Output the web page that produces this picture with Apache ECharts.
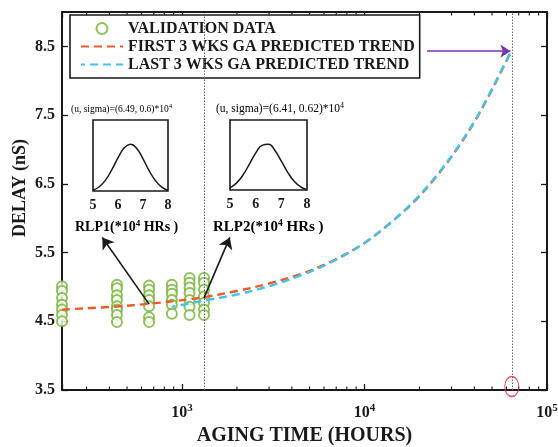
<!DOCTYPE html>
<html><head><meta charset="utf-8">
<script src="https://cdn.jsdelivr.net/npm/echarts@6/dist/echarts.min.js"></script>
<style>html,body{margin:0;padding:0;background:#fff}#c{width:558px;height:447px}</style>
</head><body><div id="c"></div>
<script>
// ---------- data ----------
const validationHours = [220, 440, 660, 880, 1100, 1320];
const delayAt220  = [5.01, 4.94, 4.84, 4.74, 4.67, 4.59, 4.50];
const delayAt440  = [5.03, 4.98, 4.88, 4.81, 4.72, 4.67, 4.59, 4.49];
const delayAt660  = [5.02, 4.96, 4.88, 4.81, 4.72, 4.56, 4.49];
const delayAt880  = [5.03, 4.96, 4.90, 4.81, 4.74, 4.61];
const delayAt1100 = [5.13, 5.06, 4.99, 4.91, 4.81, 4.71, 4.59];
const delayAt1320 = [5.13, 5.06, 4.96, 4.86, 4.77, 4.67, 4.59];

const firstTrendHours = [220, 440, 660, 880, 1100, 1320, 2000, 3000, 4500, 6700, 10000, 14000, 19000, 25000, 32000, 40000, 48000, 56000, 64100];
const firstTrendDelay = [4.67, 4.715, 4.755, 4.79, 4.82, 4.85, 4.94, 5.05, 5.19, 5.38, 5.64, 5.94, 6.26, 6.62, 7.00, 7.40, 7.78, 8.13, 8.44];
const lastTrendHours  = [880, 1100, 1320, 2000, 3000, 4500, 6700, 10000, 14000, 19000, 25000, 32000, 40000, 48000, 56000, 64100];
const lastTrendDelay  = [4.71, 4.76, 4.80, 4.89, 5.01, 5.17, 5.37, 5.64, 5.94, 6.27, 6.63, 7.01, 7.41, 7.79, 8.14, 8.45];

const rlpDividerHours = [1320, 64100];
const rlpMarkHours = 64100;

const insetX = [5, 5.25, 5.5, 5.75, 6, 6.25, 6.5, 6.75, 7, 7.25, 7.5, 7.75, 8];
const rlp1Density = [0.046, 0.118, 0.256, 0.469, 0.715, 0.923, 1.0, 0.911, 0.697, 0.446, 0.243, 0.110, 0.042];
const rlp2Density = [0.076, 0.174, 0.339, 0.569, 0.804, 0.967, 0.990, 0.860, 0.636, 0.402, 0.212, 0.097, 0.038];
const insetTicks = [5, 6, 7, 8];

const yTickValues = [3.5, 4.5, 5.5, 6.5, 7.5, 8.5];
const xMinorTicks = [300, 400, 500, 600, 700, 800, 900, 2000, 3000, 4000, 5000, 6000, 7000, 8000, 9000,
                     20000, 30000, 40000, 50000, 60000, 70000, 80000, 90000];

const legendNames = ['VALIDATION DATA', 'FIRST 3 WKS GA PREDICTED TREND', 'LAST 3 WKS GA PREDICTED TREND'];
const title1 = '(u, sigma)=(6.49, 0.6)*10';
const title2 = '(u, sigma)=(6.41, 0.62)*10';

// ---------- build ----------
const delayCols = [delayAt220, delayAt440, delayAt660, delayAt880, delayAt1100, delayAt1320];
const scatterData = [];
validationHours.forEach((h, i) => delayCols[i].forEach(v => scatterData.push([h, v])));
const firstData = firstTrendHours.map((h, i) => [h, firstTrendDelay[i]]);
const lastData = lastTrendHours.map((h, i) => [h, lastTrendDelay[i]]);

const SERIF = '"Liberation Serif", "DejaVu Serif", serif';
const GREEN = '#74b235', ORANGE = '#f05a28', BLUE = '#3fc3ef', INK = '#1a1a1a';

function expLabel(v) {
  const e = Math.log10(v);
  if (Math.abs(e - Math.round(e)) > 1e-6) return '';
  return '{b|10}{s|' + Math.round(e) + '}';
}

const chart = echarts.init(document.getElementById('c'), null, {renderer: 'canvas'});
const baseX = {gridIndex: 0, type: 'log', logBase: 10, min: 220, max: 100000, splitLine: {show: false}};

chart.setOption({
  animation: false,
  backgroundColor: '#fff',
  grid: [
    {left: 62, top: 12, right: 11, bottom: 57, show: false, containLabel: false, outerBoundsMode: 'none'},
    {left: 93, top: 120, width: 75, height: 71, show: true, borderColor: INK, borderWidth: 1.6, backgroundColor: 'transparent', outerBoundsMode: 'none'},
    {left: 230, top: 120, width: 77, height: 70, show: true, borderColor: INK, borderWidth: 1.6, backgroundColor: 'transparent', outerBoundsMode: 'none'}
  ],
  legend: {
    data: [
      {name: legendNames[0]},
      {name: legendNames[1], itemStyle: {opacity: 0}},
      {name: legendNames[2], itemStyle: {opacity: 0}}
    ],
    orient: 'vertical', left: 70, top: 15,
    itemWidth: 42, itemHeight: 11, itemGap: 1,
    padding: [5, 5, 5, 10],
    borderColor: INK, borderWidth: 1.6, backgroundColor: '#fff',
    selectedMode: false,
    textStyle: {fontFamily: SERIF, fontWeight: 'bold', fontSize: 16, color: INK, lineHeight: 17}
  },
  xAxis: [
    Object.assign({}, baseX, {
      position: 'bottom',
      axisLine: {show: true, onZero: false, lineStyle: {color: INK, width: 2}},
      axisTick: {show: true, inside: true, length: 6, lineStyle: {color: INK, width: 1.3}},
      axisLabel: {formatter: expLabel, margin: 13, color: INK,
        rich: {b: {fontFamily: SERIF, fontWeight: 'bold', fontSize: 16, lineHeight: 20, color: INK},
               s: {fontFamily: SERIF, fontWeight: 'bold', fontSize: 11, lineHeight: 10, verticalAlign: 'top', color: INK}}},
      name: 'AGING TIME (HOURS)', nameLocation: 'middle', nameGap: 36,
      nameTextStyle: {fontFamily: SERIF, fontWeight: 'bold', fontSize: 20, color: INK}
    }),
    Object.assign({}, baseX, {
      position: 'top',
      axisLine: {show: true, onZero: false, lineStyle: {color: INK, width: 2}},
      axisTick: {show: true, inside: true, length: 6, lineStyle: {color: INK, width: 1.3}},
      axisLabel: {show: false}
    }),
    {gridIndex: 1, type: 'value', min: 5, max: 8, interval: 1,
      axisLine: {show: false}, axisTick: {show: false}, splitLine: {show: false},
      axisLabel: {margin: 7, color: INK, fontFamily: SERIF, fontWeight: 'bold', fontSize: 14, customValues: insetTicks}},
    {gridIndex: 2, type: 'value', min: 5, max: 8, interval: 1,
      axisLine: {show: false}, axisTick: {show: false}, splitLine: {show: false},
      axisLabel: {margin: 7, color: INK, fontFamily: SERIF, fontWeight: 'bold', fontSize: 14, customValues: insetTicks}}
  ],
  yAxis: [
    {gridIndex: 0, type: 'value', min: 3.5, max: 9, position: 'left',
      axisLine: {show: true, onZero: false, lineStyle: {color: INK, width: 2}},
      axisTick: {show: true, inside: true, length: 6, customValues: yTickValues, lineStyle: {color: INK, width: 1.3}},
      axisLabel: {customValues: yTickValues, margin: 7, color: INK, fontFamily: SERIF, fontWeight: 'bold', fontSize: 16,
        formatter: v => v.toFixed(1)},
      splitLine: {show: false}},
    {gridIndex: 0, type: 'value', min: 3.5, max: 9, position: 'right',
      axisLine: {show: true, onZero: false, lineStyle: {color: INK, width: 2}},
      axisTick: {show: true, inside: true, length: 6, customValues: yTickValues, lineStyle: {color: INK, width: 1.3}},
      axisLabel: {show: false}, splitLine: {show: false}},
    {gridIndex: 1, type: 'value', min: 0.03, max: 1.5, show: false},
    {gridIndex: 2, type: 'value', min: 0.03, max: 1.5, show: false}
  ],
  series: [
    {
      name: 'minor ticks', type: 'custom', xAxisIndex: 0, yAxisIndex: 0, silent: true, clip: false,
      data: xMinorTicks.map(h => [h]),
      renderItem: function (params, api) {
        const b = api.coord([api.value(0), 3.5]);
        const t = api.coord([api.value(0), 9]);
        const st = {stroke: INK, lineWidth: 1.1};
        return {type: 'group', children: [
          {type: 'line', shape: {x1: b[0], y1: b[1], x2: b[0], y2: b[1] - 3.5}, style: st},
          {type: 'line', shape: {x1: t[0], y1: t[1], x2: t[0], y2: t[1] + 3.5}, style: st}
        ]};
      }
    },
    {
      name: legendNames[0], type: 'scatter', xAxisIndex: 0, yAxisIndex: 0, clip: false,
      symbol: 'emptyCircle', symbolSize: 10,
      itemStyle: {color: GREEN, borderColor: GREEN, borderWidth: 1.8},
      data: scatterData, z: 3
    },
    {
      name: legendNames[1], type: 'line', xAxisIndex: 0, yAxisIndex: 0, smooth: 0.35,
      symbol: 'none', data: firstData, z: 4,
      lineStyle: {color: ORANGE, width: 2.4, type: [8, 5]},
      itemStyle: {color: ORANGE},
      markLine: {
        silent: true, symbol: ['none', 'none'], label: {show: false}, z: 5,
        data: [
          {xAxis: rlpDividerHours[0], lineStyle: {color: '#666', width: 1, type: [1.5, 1.5]}},
          {xAxis: rlpDividerHours[1], lineStyle: {color: '#666', width: 1, type: [1.5, 1.5]}},
          [{coord: [660, 4.75], symbol: 'none', lineStyle: {color: INK, width: 1.6, type: 'solid'}},
           {coord: [366, 5.72], symbol: 'arrow', symbolSize: 11}],
          [{coord: [1320, 4.84], symbol: 'none', lineStyle: {color: INK, width: 1.6, type: 'solid'}},
           {coord: [1828, 5.72], symbol: 'arrow', symbolSize: 11}],
          [{coord: [22000, 8.43], symbol: 'none', lineStyle: {color: '#7a35b5', width: 1.6, type: 'solid'}},
           {coord: [63000, 8.43], symbol: 'arrow', symbolSize: 10}]
        ]
      }
    },
    {
      name: legendNames[2], type: 'line', xAxisIndex: 0, yAxisIndex: 0, smooth: 0.35,
      symbol: 'none', data: lastData, z: 4,
      lineStyle: {color: BLUE, width: 2.4, type: [8, 5], dashOffset: 4},
      itemStyle: {color: BLUE}
    },
    {
      name: 'RLP mark', type: 'scatter', xAxisIndex: 0, yAxisIndex: 0, clip: false, silent: true,
      symbol: 'circle', symbolSize: [14, 20],
      itemStyle: {color: 'rgba(0,0,0,0)', borderColor: '#e8262b', borderWidth: 1.2},
      data: [[rlpMarkHours, 3.55]], z: 6
    },
    {
      name: 'RLP1', type: 'line', xAxisIndex: 2, yAxisIndex: 2, smooth: true, symbol: 'none', clip: false,
      lineStyle: {color: INK, width: 1.5}, data: insetX.map((x, i) => [x, rlp1Density[i]])
    },
    {
      name: 'RLP2', type: 'line', xAxisIndex: 3, yAxisIndex: 3, smooth: true, symbol: 'none', clip: false,
      lineStyle: {color: INK, width: 1.5}, data: insetX.map((x, i) => [x, rlp2Density[i]])
    }
  ],
  graphic: [
    {type: 'text', x: 20, y: 188, rotation: Math.PI / 2,
      style: {text: 'DELAY (nS)', align: 'center', verticalAlign: 'middle', fill: INK,
        font: 'bold 18px ' + SERIF}},
    {type: 'text', x: 71, y: 109,
      style: {text: '{a|' + title1 + '}{s|4}', verticalAlign: 'middle',
        rich: {a: {fontFamily: SERIF, fontSize: 9.5, lineHeight: 12, color: INK},
               s: {fontFamily: SERIF, fontSize: 7, lineHeight: 7, verticalAlign: 'top', color: INK}}}},
    {type: 'text', x: 216, y: 109,
      style: {text: '{a|' + title2 + '}{s|4}', verticalAlign: 'middle',
        rich: {a: {fontFamily: SERIF, fontSize: 11.5, lineHeight: 14, color: INK},
               s: {fontFamily: SERIF, fontSize: 8, lineHeight: 8, verticalAlign: 'top', color: INK}}}},
    {type: 'text', x: 75, y: 227,
      style: {text: '{a|RLP1(*10}{s|4}{a| HRs )}', verticalAlign: 'middle',
        rich: {a: {fontFamily: SERIF, fontWeight: 'bold', fontSize: 14, lineHeight: 16, color: INK},
               s: {fontFamily: SERIF, fontWeight: 'bold', fontSize: 9, lineHeight: 8, verticalAlign: 'top', color: INK}}}},
    {type: 'text', x: 213, y: 227,
      style: {text: '{a|RLP2(*10}{s|4}{a| HRs )}', verticalAlign: 'middle',
        rich: {a: {fontFamily: SERIF, fontWeight: 'bold', fontSize: 15, lineHeight: 17, color: INK},
               s: {fontFamily: SERIF, fontWeight: 'bold', fontSize: 9.5, lineHeight: 8, verticalAlign: 'top', color: INK}}}}
  ]
});
</script>
</body></html>
